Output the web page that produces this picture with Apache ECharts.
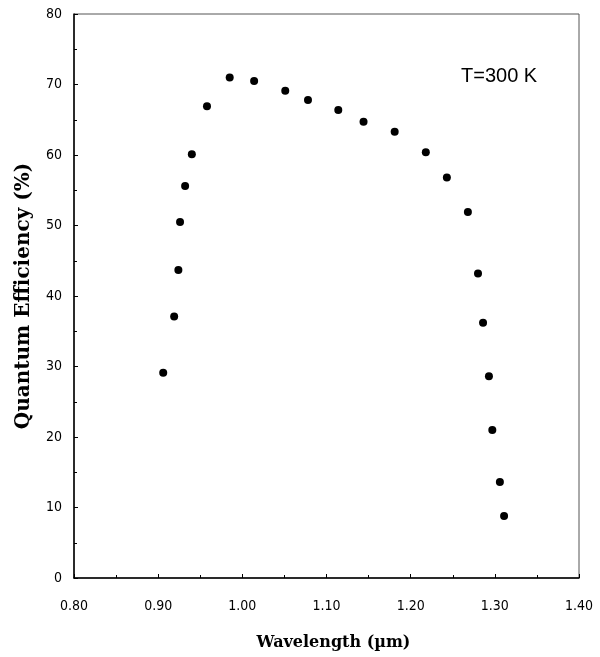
<!DOCTYPE html>
<html>
<head>
<meta charset="utf-8">
<script src="https://cdn.jsdelivr.net/npm/echarts@6/dist/echarts.min.js"></script>
<style>
	html, body { margin: 0; padding: 0; background: #fff; }
	#qeChart { width: 600px; height: 657px; }
</style>
</head>
<body>
<div id="qeChart"></div>
<script>
// wavelength (um) and quantum efficiency (%)
var wavelength = [0.906, 0.919, 0.924, 0.926, 0.932, 0.940, 0.958, 0.985, 1.014, 1.051,
	1.078, 1.114, 1.144, 1.181, 1.218, 1.243, 1.268, 1.280, 1.286, 1.293, 1.297, 1.306, 1.311]
var efficiency = [29.1, 37.1, 43.7, 50.5, 55.6, 60.1, 66.9, 71.0, 70.5, 69.1,
	67.8, 66.4, 64.7, 63.3, 60.4, 56.8, 51.9, 43.2, 36.2, 28.6, 21.0, 13.6, 8.8]
var tempLabel = 'T=300 K'

function drawQE() {
	var chartDom = document.getElementById('qeChart')
	var myChart = echarts.init(chartDom)
	var option

	var points = []
	for (var i = 0; i < wavelength.length; i++) {
		points.push([wavelength[i], efficiency[i]])
	}

	var tickFont = {
		color: '#000',
		fontFamily: '"Liberation Sans Narrow", "DejaVu Sans Condensed", "Liberation Sans", sans-serif',
		fontSize: 14,
	}
	var titleFont = {
		color: '#000',
		fontFamily: '"DejaVu Serif", "Liberation Serif", serif',
		fontWeight: 'bold',
	}

	option = {
		backgroundColor: '#fff',
		animation: false,
		grid: {
			left: 74,
			right: 21,
			top: 14,
			bottom: 79,
			show: true,
			borderColor: '#555',
			borderWidth: 1,
		},
		xAxis: {
			type: 'value',
			min: 0.8,
			max: 1.4,
			interval: 0.1,
			name: 'Wavelength (\u00b5m)',
			nameLocation: 'middle',
			nameGap: 57,
			nameTextStyle: Object.assign({ fontSize: 16, padding: [0, 0, 0, 14] }, titleFont),
			axisLine: { lineStyle: { color: '#000', width: 1.5 } },
			axisTick: { inside: true, length: 4, lineStyle: { color: '#000' } },
			minorTick: { show: true, splitNumber: 2, length: 3, lineStyle: { color: '#000' } },
			splitLine: { show: false },
			axisLabel: Object.assign({ margin: 21, formatter: function (v) { return v.toFixed(2) } }, tickFont),
		},
		yAxis: {
			type: 'value',
			min: 0,
			max: 80,
			interval: 10,
			name: 'Quantum Efficiency (%)',
			nameLocation: 'middle',
			nameGap: 40,
			nameTextStyle: Object.assign({ fontSize: 20 }, titleFont),
			axisLine: { show: true, lineStyle: { color: '#000', width: 1.5 } },
			axisTick: { show: true, inside: true, length: 4, lineStyle: { color: '#000' } },
			minorTick: { show: true, splitNumber: 2, length: 3, lineStyle: { color: '#000' } },
			splitLine: { show: false },
			axisLabel: Object.assign({ margin: 12 }, tickFont),
		},
		graphic: [
			{
				type: 'text',
				left: 461,
				top: 66,
				style: {
					text: tempLabel,
					fill: '#000',
					font: '20px "Liberation Sans Narrow", "Liberation Sans", Arial, sans-serif',
				},
			},
		],
		series: [
			{
				type: 'scatter',
				data: points,
				symbol: 'circle',
				symbolSize: 8,
				itemStyle: { color: '#000', opacity: 1 },
			},
		],
	}

	option && myChart.setOption(option)
}

drawQE()
</script>
</body>
</html>
